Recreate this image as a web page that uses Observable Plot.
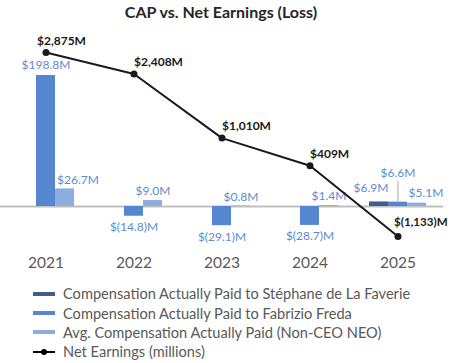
<!DOCTYPE html>
<html>
<head>
<meta charset="utf-8">
<script src="https://cdn.jsdelivr.net/npm/d3@7"></script>
<script src="https://cdn.jsdelivr.net/npm/@observablehq/plot@0.6"></script>
<style>
  body { margin: 0; background: #fff; font-family: Lato, "Open Sans", sans-serif; }
  #wrap { width: 452px; height: 363px; position: relative; overflow: hidden; }
  #title { height: 26px; line-height: 24px; text-align: center; font-weight: bold; font-size: 16px; color: #262626; padding-right: 10px; }
  #legend { padding-left: 33px; margin-top: 8px; }
  .row { display: flex; align-items: center; height: 19.4px; font-size: 14.6px; color: #595959; white-space: nowrap; }
  .sw { width: 22px; height: 4px; margin-right: 8px; flex: none; }
  .lsw { width: 22px; height: 8px; margin-right: 8px; flex: none; position: relative; }
  .lsw:before { content: ""; position: absolute; left: 0; right: 0; top: 3px; height: 2px; background: #000; }
  .lsw:after { content: ""; position: absolute; left: 8px; top: 1px; width: 6px; height: 6px; border-radius: 50%; background: #000; }
</style>
</head>
<body>
<div id="wrap">
  <div id="title">CAP vs. Net Earnings (Loss)</div>
  <div id="chart"></div>
  <div id="legend"></div>
</div>
<script>
const years = ["2021", "2022", "2023", "2024", "2025"];
const faverieCAP = [null, null, null, null, 6.9];
const fredaCAP = [198.8, -14.8, -29.1, -28.7, 6.6];
const avgNeoCAP = [26.7, 9.0, 0.8, 1.4, 5.1];
const netEarnings = [2875, 2408, 1010, 409, -1133];

const seriesNames = [
  "Compensation Actually Paid to Stéphane de La Faverie",
  "Compensation Actually Paid to Fabrizio Freda",
  "Avg. Compensation Actually Paid (Non-CEO NEO)"
];
const seriesColors = ["#3f5d8e", "#5587cf", "#8cade0"];
const lineName = "Net Earnings (millions)";

// primary (CAP, $M) and secondary (net earnings, $M) axis domains
const yDomain = [-68.3, 248.9];
const y2Domain = [-1460, 3093];
const toPrimary = d3.scaleLinear(y2Domain, yDomain);

const bars = [];
[faverieCAP, fredaCAP, avgNeoCAP].forEach((arr, s) => {
  arr.forEach((v, i) => { if (v != null) bars.push({year: years[i], series: s, value: v}); });
});
const net = years.map((y, i) => ({year: y, ne: netEarnings[i], yv: toPrimary(netEarnings[i])}));

const fmtCap = v => v < 0 ? `$(${d3.format(".1f")(-v)})M` : `$${d3.format(".1f")(v)}M`;
const fmtNet = v => v < 0 ? `$(${d3.format(",")(-v)})M` : `$${d3.format(",")(v)}M`;

const BW = 19;
const offs = [-BW, 0, BW];
const labelFill = "#5b8cd3";

const marks = [
  Plot.ruleY([0], {stroke: "#bfbfbf", strokeWidth: 2, insetLeft: -8, insetRight: -9})
];
for (let s = 0; s < 3; s++) {
  marks.push(Plot.barY(bars.filter(d => d.series === s), {x: "year", y: "value", fill: seriesColors[s], dx: offs[s]}));
}
// CAP labels (2022-2024)
for (let s = 0; s < 3; s++) {
  const dd = bars.filter(d => d.series === s && d.year !== "2025" && d.year !== "2021");
  marks.push(Plot.text(dd.filter(d => d.value >= 0), {x: "year", y: "value", text: d => fmtCap(d.value), dx: offs[s], dy: -9, fill: labelFill, fontSize: 12}));
  marks.push(Plot.text(dd.filter(d => d.value < 0), {x: "year", y: "value", text: d => fmtCap(d.value), dx: offs[s], dy: 11, fill: labelFill, fontSize: 12}));
}
// 2021 labels (avg label nudged right, clear of the tall bar)
const b21 = bars.filter(d => d.year === "2021");
marks.push(Plot.text(b21.filter(d => d.series === 1), {x: "year", y: "value", text: d => fmtCap(d.value), dy: -10, fill: labelFill, fontSize: 12}));
marks.push(Plot.text(b21.filter(d => d.series === 2), {x: "year", y: "value", text: d => fmtCap(d.value), dx: 32, dy: -9, fill: labelFill, fontSize: 12}));
// 2025 labels
const b25 = bars.filter(d => d.year === "2025");
marks.push(Plot.text(b25.filter(d => d.series === 0), {x: "year", y: "value", text: d => fmtCap(d.value), dx: -27, dy: -14, fill: labelFill, fontSize: 12}));
marks.push(Plot.text(b25.filter(d => d.series === 1), {x: "year", y: "value", text: d => fmtCap(d.value), dx: 0, dy: -29, fill: labelFill, fontSize: 12}));
marks.push(Plot.text(b25.filter(d => d.series === 2), {x: "year", y: "value", text: d => fmtCap(d.value), dx: 28, dy: -10, fill: labelFill, fontSize: 12}));
marks.push(Plot.vector(b25.filter(d => d.series === 1), {
  x: "year", y: "value", length: 20, rotate: 0, anchor: "start", dy: -1,
  stroke: "#a6a6a6", strokeWidth: 1,
  shape: {draw(ctx, l) { ctx.moveTo(0, 0); ctx.lineTo(0, -l); }}
}));
// Net earnings line
marks.push(Plot.line(net, {x: "year", y: "yv", stroke: "#1a1a1a", strokeWidth: 2}));
marks.push(Plot.dot(net, {x: "year", y: "yv", fill: "#1a1a1a", r: 3.5}));
marks.push(Plot.text(net.slice(0, 1), {x: "year", y: "yv", text: d => fmtNet(d.ne), textAnchor: "start", dx: -9, dy: -11, fontWeight: "bold", fontSize: 12, fill: "#1a1a1a"}));
marks.push(Plot.text(net.slice(1, 4), {x: "year", y: "yv", text: d => fmtNet(d.ne), textAnchor: "start", dx: 0, dy: -12, fontWeight: "bold", fontSize: 12, fill: "#1a1a1a"}));
marks.push(Plot.text(net.slice(4), {x: "year", y: "yv", text: d => fmtNet(d.ne), textAnchor: "start", dx: -4, dy: -14, fontWeight: "bold", fontSize: 11.6, fill: "#1a1a1a"}));
marks.push(Plot.axisX({tickSize: 0, tickPadding: 5, fontSize: 15.5, fill: "#595959"}));

const chart = Plot.plot({
  width: 452,
  height: 250,
  marginTop: 16,
  marginBottom: 25,
  marginLeft: 8,
  marginRight: 18,
  style: {fontFamily: "Lato, 'Open Sans', sans-serif", background: "transparent", overflow: "visible"},
  x: {type: "band", domain: years, paddingInner: 0.785, paddingOuter: 0.3, label: null, axis: null},
  y: {domain: yDomain, axis: null},
  marks
});
document.getElementById("chart").appendChild(chart);

const legend = document.getElementById("legend");
seriesNames.forEach((name, s) => {
  const row = document.createElement("div");
  row.className = "row";
  row.innerHTML = `<span class="sw" style="background:${seriesColors[s]}"></span><span>${name}</span>`;
  legend.appendChild(row);
});
const lrow = document.createElement("div");
lrow.className = "row";
lrow.innerHTML = `<span class="lsw"></span><span>${lineName}</span>`;
legend.appendChild(lrow);
</script>
</body>
</html>
